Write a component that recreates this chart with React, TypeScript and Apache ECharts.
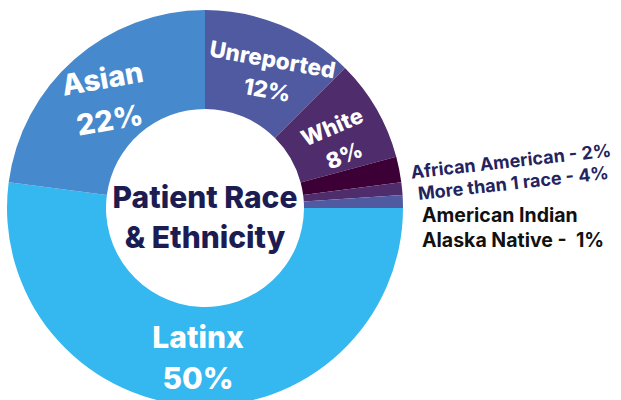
import React, { useEffect, useRef } from "react";
import * as echarts from "echarts";

const categories = [
  "Latinx",
  "Asian",
  "Unreported",
  "White",
  "African American",
  "More than 1 race",
  "American Indian Alaska Native",
];
// slice sizes as drawn in the picture
const sliceValues = [50, 22, 12, 8, 2, 1, 1];
// percentages as printed in the labels
const labelPercents = [50, 22, 12, 8, 2, 4, 1];
const sliceColors = ["#35b7ef", "#4689cc", "#4f5aa0", "#4f2c6c", "#3c0036", "#4f2c6c", "#4f5aa0"];
const labelRotations = [0, 10, -10, 23, 0, 0, 0];
const insideLabelSizes = [30, 29, 22.5, 22, 0, 0, 0];
const insideLineHeights = [41, 42, 31, 31, 0, 0, 0];
const labelOffsets = [[3, -2], [0, 5], [8, 5], [0, 0], [0, 0], [0, 0], [0, 0]];

const FONT = "Inter, 'DejaVu Sans', sans-serif";

export default function App() {
  const ref = useRef<HTMLDivElement>(null);
  useEffect(() => {
    document.body.style.margin = "0";
    const chart = echarts.init(ref.current!, null, { renderer: "svg" });
    const data = categories.map((name, i) => {
      const inside = i < 3;
      return {
        name,
        value: sliceValues[i],
        itemStyle: { color: sliceColors[i] },
        label: inside
          ? {
              show: true,
              position: "inside",
              rotate: labelRotations[i],
              offset: labelOffsets[i],
              formatter: `{b}\n${labelPercents[i]}%`,
              color: "#ffffff",
              fontFamily: FONT,
              fontWeight: 800,
              fontSize: insideLabelSizes[i],
              lineHeight: insideLineHeights[i],
            }
          : { show: false },
        labelLine: { show: false },
      };
    });
    chart.setOption({
      animation: false,
      series: [
        {
          type: "pie",
          center: [205, 208],
          radius: [99, 198],
          startAngle: 0,
          clockwise: true,
          silent: true,
          avoidLabelOverlap: false,
          data,
        },
      ],
      graphic: [
        {
          type: "text",
          x: 205,
          y: 217,
          z: 100,
          style: {
            text: "Patient Race\n& Ethnicity",
            fill: "#1c1c52",
            font: `800 30px ${FONT}`,
            lineHeight: 40,
            textAlign: "center",
            textVerticalAlign: "middle",
          },
        },
        {
          type: "text",
          x: 338,
          y: 141,
          z: 100,
          rotation: (labelRotations[3] * Math.PI) / 180,
          style: {
            text: `${categories[3]}\n${labelPercents[3]}%`,
            fill: "#ffffff",
            font: `800 ${insideLabelSizes[3]}px ${FONT}`,
            lineHeight: insideLineHeights[3],
            textAlign: "center",
            textVerticalAlign: "middle",
          },
        },
        {
          type: "text",
          x: 512,
          y: 172,
          z: 100,
          rotation: (6.4 * Math.PI) / 180,
          style: {
            text: `${categories[4]} - ${labelPercents[4]}%\n${categories[5]} - ${labelPercents[5]}%`,
            fill: "#25235e",
            font: `700 18px ${FONT}`,
            lineHeight: 22,
            textAlign: "center",
            textVerticalAlign: "middle",
          },
        },
        {
          type: "text",
          x: 422,
          y: 227,
          z: 100,
          style: {
            text: `American Indian\nAlaska Native -  ${labelPercents[6]}%`,
            fill: "#111111",
            font: `700 19.5px ${FONT}`,
            lineHeight: 25,
            textAlign: "left",
            textVerticalAlign: "middle",
          },
        },
      ],
    });
    return () => chart.dispose();
  }, []);
  return <div ref={ref} style={{ width: 621, height: 400 }} />;
}
